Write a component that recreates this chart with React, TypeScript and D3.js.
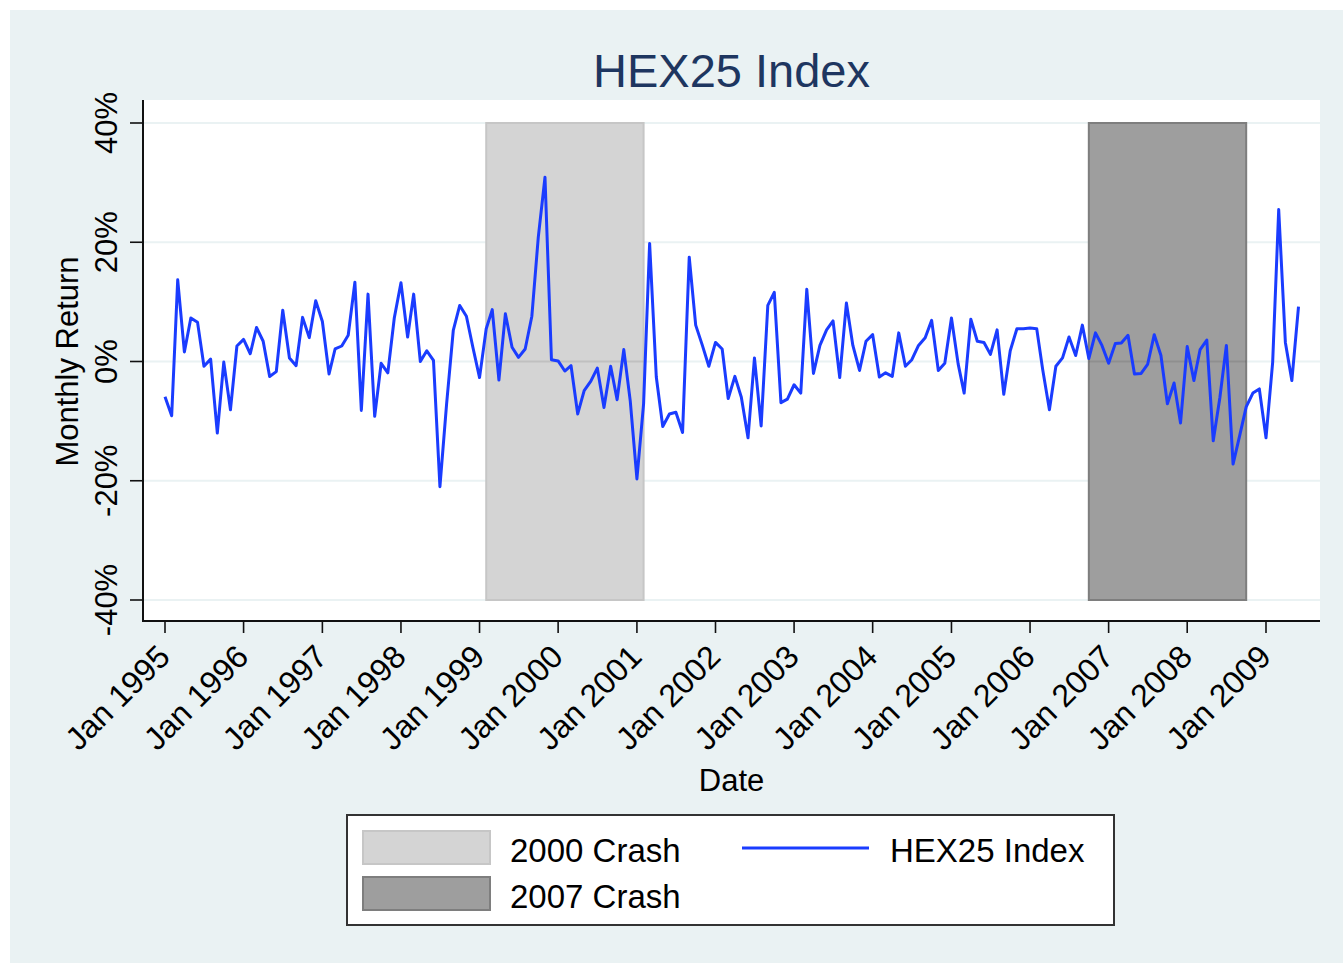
import React, { useRef, useEffect } from "react";
import * as d3 from "d3";

// monthly returns (%), Jan 1995 .. Jun 2009
const startMonth = new Date(1995, 0, 1);
const returns = [
  -5.9, -9.1, 13.7, 1.6, 7.3, 6.6, -0.8, 0.4, -12.0, -0.1, -8.1, 2.6,
  3.7, 1.3, 5.7, 3.4, -2.5, -1.7, 8.6, 0.6, -0.7, 7.4, 4.0, 10.2,
  6.7, -2.1, 2.1, 2.6, 4.4, 13.3, -8.2, 11.3, -9.2, -0.3, -1.9, 7.3,
  13.2, 4.1, 11.3, 0.0, 1.8, 0.2, -21.0, -7.1, 5.2, 9.4, 7.6, 2.4,
  -2.7, 5.5, 8.7, -3.1, 8.0, 2.4, 0.7, 2.1, 7.6, 20.9, 30.9, 0.3,
  0.1, -1.6, -0.7, -8.8, -4.9, -3.3, -1.1, -7.7, -0.8, -6.4, 2.0, -6.6,
  -19.7, -7.1, 19.8, -2.6, -10.9, -8.8, -8.5, -11.9, 17.5, 6.1, 2.7, -0.8,
  3.2, 2.1, -6.2, -2.5, -6.0, -12.8, 0.6, -10.8, 9.4, 11.6, -6.9, -6.3,
  -3.9, -5.3, 12.1, -2.0, 2.7, 5.3, 6.8, -2.7, 9.8, 2.7, -1.5, 3.4,
  4.5, -2.6, -1.9, -2.5, 4.8, -0.8, 0.3, 2.7, 4.0, 6.9, -1.5, -0.3,
  7.3, -0.4, -5.3, 7.1, 3.4, 3.2, 1.2, 5.3, -5.5, 1.8, 5.5, 5.5,
  5.6, 5.5, -1.4, -8.1, -0.8, 0.6, 4.1, 1.0, 6.1, 0.5, 4.8, 2.7,
  -0.3, 3.0, 3.1, 4.4, -2.1, -2.0, -0.5, 4.5, 1.0, -7.1, -3.6, -10.3,
  2.5, -3.2, 2.0, 3.6, -13.3, -6.0, 2.7, -17.2, -12.4, -7.6, -5.3, -4.6,
  -12.8, -0.1, 25.5, 3.2, -3.2, 9.2,
];

const crashLabels = ["2000 Crash", "2007 Crash"];
const crashStarts = [new Date(1999, 1, 1), new Date(2006, 9, 1)];
const crashEnds = [new Date(2001, 1, 1), new Date(2008, 9, 1)];
const crashFills = ["#d4d4d4", "#9e9e9e"];
const crashStrokes = ["#c6c6c6", "#7e7e7e"];

const yTicks = [-40, -20, 0, 20, 40];
const xTickYears = d3.range(1995, 2010);

const W = 1343;
const H = 963;
const font = "'Liberation Sans', Arial, Helvetica, sans-serif";

const App = () => {
  const svgRef = useRef<SVGSVGElement>(null);

  useEffect(() => {
    const svg = d3.select(svgRef.current);
    svg.selectAll("*").remove();

    const plot = { left: 143, right: 1320, top: 100, bottom: 621 };

    const x = d3
      .scaleTime()
      .domain([new Date(1995, 0, 1), new Date(2009, 0, 1)])
      .range([165, 1266]);
    const y = d3.scaleLinear().domain([-40, 40]).range([600, 123]);

    const data = returns.map((v, i) => ({ date: d3.timeMonth.offset(startMonth, i), v }));

    // background
    svg.append("rect").attr("x", 10).attr("y", 10).attr("width", W - 10).attr("height", H - 10).attr("fill", "#eaf2f3");
    svg
      .append("rect")
      .attr("x", plot.left)
      .attr("y", plot.top)
      .attr("width", plot.right - plot.left)
      .attr("height", plot.bottom - plot.top)
      .attr("fill", "#ffffff");

    // gridlines
    svg
      .append("g")
      .selectAll("line")
      .data(yTicks)
      .enter()
      .append("line")
      .attr("x1", plot.left)
      .attr("x2", plot.right)
      .attr("y1", (d) => y(d))
      .attr("y2", (d) => y(d))
      .attr("stroke", "#eaf2f3")
      .attr("stroke-width", 2);

    // crash shading
    const shade = svg.append("g");
    crashLabels.forEach((_, i) => {
      shade
        .append("rect")
        .attr("x", x(crashStarts[i]))
        .attr("y", y(40))
        .attr("width", x(crashEnds[i]) - x(crashStarts[i]))
        .attr("height", y(-40) - y(40))
        .attr("fill", crashFills[i])
        .attr("stroke", crashStrokes[i])
        .attr("stroke-width", 2);
      shade
        .append("line")
        .attr("x1", x(crashStarts[i]))
        .attr("x2", x(crashEnds[i]))
        .attr("y1", y(0))
        .attr("y2", y(0))
        .attr("stroke", "rgba(0,0,0,0.09)")
        .attr("stroke-width", 2);
    });

    // return line
    const line = d3
      .line<{ date: Date; v: number }>()
      .x((d) => x(d.date))
      .y((d) => y(d.v));
    svg
      .append("path")
      .datum(data)
      .attr("d", line)
      .attr("fill", "none")
      .attr("stroke", "#1a3cff")
      .attr("stroke-width", 3)
      .attr("stroke-linejoin", "round");

    // axes
    svg
      .append("line")
      .attr("x1", plot.left)
      .attr("x2", plot.left)
      .attr("y1", plot.top)
      .attr("y2", plot.bottom)
      .attr("stroke", "#111")
      .attr("stroke-width", 2);
    svg
      .append("line")
      .attr("x1", plot.left - 1)
      .attr("x2", plot.right)
      .attr("y1", plot.bottom)
      .attr("y2", plot.bottom)
      .attr("stroke", "#111")
      .attr("stroke-width", 2);

    const yAxis = svg.append("g");
    yTicks.forEach((t) => {
      yAxis
        .append("line")
        .attr("x1", plot.left - 13)
        .attr("x2", plot.left)
        .attr("y1", y(t))
        .attr("y2", y(t))
        .attr("stroke", "#111")
        .attr("stroke-width", 1.6);
      yAxis
        .append("text")
        .attr("transform", `translate(117, ${y(t)}) rotate(-90)`)
        .attr("text-anchor", "middle")
        .attr("font-family", font)
        .attr("font-size", 31)
        .attr("fill", "#000")
        .text(`${t}%`);
    });

    const fmt = d3.timeFormat("%b %Y");
    const xAxis = svg.append("g");
    xTickYears.forEach((yr) => {
      const d = new Date(yr, 0, 1);
      xAxis
        .append("line")
        .attr("x1", x(d))
        .attr("x2", x(d))
        .attr("y1", plot.bottom)
        .attr("y2", plot.bottom + 12)
        .attr("stroke", "#111")
        .attr("stroke-width", 1.6);
      xAxis
        .append("text")
        .attr("transform", `translate(${x(d) - 1}, 651) rotate(-45)`)
        .attr("text-anchor", "end")
        .attr("dominant-baseline", "central")
        .attr("font-family", font)
        .attr("font-size", 32)
        .attr("fill", "#000")
        .text(fmt(d));
    });

    // titles
    const cx = (plot.left + plot.right) / 2;
    svg
      .append("text")
      .attr("x", cx)
      .attr("y", 87)
      .attr("text-anchor", "middle")
      .attr("font-family", font)
      .attr("font-size", 47)
      .attr("fill", "#1e3660")
      .text("HEX25 Index");
    svg
      .append("text")
      .attr("x", cx)
      .attr("y", 791)
      .attr("text-anchor", "middle")
      .attr("font-family", font)
      .attr("font-size", 31)
      .attr("fill", "#000")
      .text("Date");
    svg
      .append("text")
      .attr("transform", `translate(78, ${y(0)}) rotate(-90)`)
      .attr("text-anchor", "middle")
      .attr("font-family", font)
      .attr("font-size", 31)
      .attr("fill", "#000")
      .text("Monthly Return");

    // legend
    const lg = svg.append("g");
    lg.append("rect")
      .attr("x", 347)
      .attr("y", 815)
      .attr("width", 767)
      .attr("height", 110)
      .attr("fill", "#fff")
      .attr("stroke", "#333")
      .attr("stroke-width", 2);
    crashLabels.forEach((lab, i) => {
      lg.append("rect")
        .attr("x", 363)
        .attr("y", 831 + i * 46)
        .attr("width", 127)
        .attr("height", 33)
        .attr("fill", crashFills[i])
        .attr("stroke", crashStrokes[i])
        .attr("stroke-width", 2);
      lg.append("text")
        .attr("x", 510)
        .attr("y", 862 + i * 46)
        .attr("font-family", font)
        .attr("font-size", 33)
        .attr("fill", "#000")
        .text(lab);
    });
    lg.append("line")
      .attr("x1", 742)
      .attr("x2", 869)
      .attr("y1", 848)
      .attr("y2", 848)
      .attr("stroke", "#1a3cff")
      .attr("stroke-width", 3);
    lg.append("text")
      .attr("x", 890)
      .attr("y", 862)
      .attr("font-family", font)
      .attr("font-size", 33)
      .attr("fill", "#000")
      .text("HEX25 Index");
  }, []);

  return (
    <svg
      ref={svgRef}
      width={W}
      height={H}
      style={{ position: "absolute", left: 0, top: 0, background: "#fff" }}
    />
  );
};

export default App;
